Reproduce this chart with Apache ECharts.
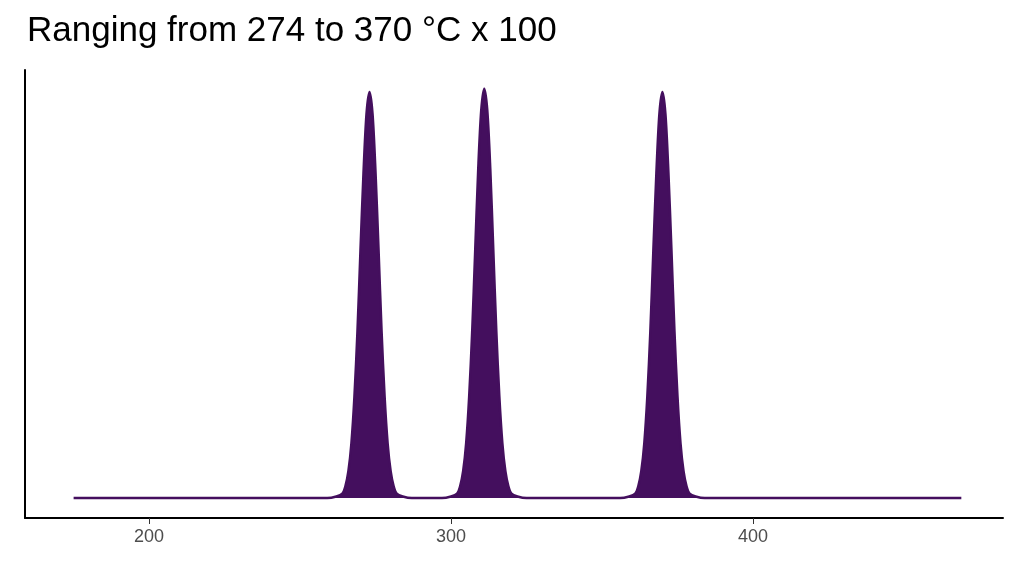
<!DOCTYPE html>
<html>
<head>
<meta charset="utf-8">
<script src="https://cdn.jsdelivr.net/npm/echarts@6/dist/echarts.min.js"></script>
</head>
<body style="margin:0">
<div id="main" style="width:1024px;height:576px;"></div>
<script>
// x positions (°C x 100 scale) and density values
var xs = [175,
  259,262,264,265,266,267,268,269,270,271,272,273,274,275,276,277,278,279,280,281,282,284,287,
  297,300,302,303,304,305,306,307,308,309,310,311,312,313,314,315,316,317,318,319,320,322,325,
  356,359,361,362,363,364,365,366,367,368,369,370,371,372,373,374,375,376,377,378,379,381,384,
  469];
var ys = [0,
  0,0.004,0.011,0.029,0.066,0.135,0.25,0.41,0.61,0.80,0.946,1.0,0.946,0.80,0.61,0.41,0.25,0.135,0.066,0.029,0.011,0.004,0,
  0,0.004,0.011,0.029,0.066,0.135,0.25,0.41,0.61,0.81,0.955,1.008,0.955,0.81,0.61,0.41,0.25,0.135,0.066,0.029,0.011,0.004,0,
  0,0.004,0.011,0.029,0.066,0.135,0.25,0.41,0.61,0.80,0.946,1.0,0.946,0.80,0.61,0.41,0.25,0.135,0.066,0.029,0.011,0.004,0,
  0];
var tickVals = [200, 300, 400];

var chart = echarts.init(document.getElementById('main'));
chart.setOption({
  animation: false,
  title: {
    text: 'Ranging from 274 to 370 °C x 100',
    left: 22, top: 9,
    textStyle: {fontFamily: 'Liberation Sans', fontSize: 35, fontWeight: 'normal', color: '#000'}
  },
  grid: {left: 25, right: 21, top: 70, bottom: 58},
  xAxis: {
    type: 'value', min: 158.9, max: 482.8,
    splitLine: {show: false},
    axisLine: {onZero: false, lineStyle: {color: '#000', width: 2}},
    axisTick: {customValues: tickVals, length: 6, lineStyle: {color: '#333'}},
    axisLabel: {customValues: tickVals, fontFamily: 'Liberation Sans', fontSize: 18, color: '#4d4d4d', margin: 10}
  },
  yAxis: {
    type: 'value', min: -0.049, max: 1.054,
    splitLine: {show: false},
    axisLine: {show: true, onZero: false, lineStyle: {color: '#000', width: 2}},
    axisTick: {show: false},
    axisLabel: {show: false}
  },
  series: [{
    type: 'line',
    data: xs.map(function (x, i) { return [x, ys[i]]; }),
    smooth: 0.3,
    symbol: 'none',
    lineStyle: {color: '#440f5e', width: 2.5},
    areaStyle: {color: '#440f5e', opacity: 1, origin: 0}
  }]
});
</script>
</body>
</html>
